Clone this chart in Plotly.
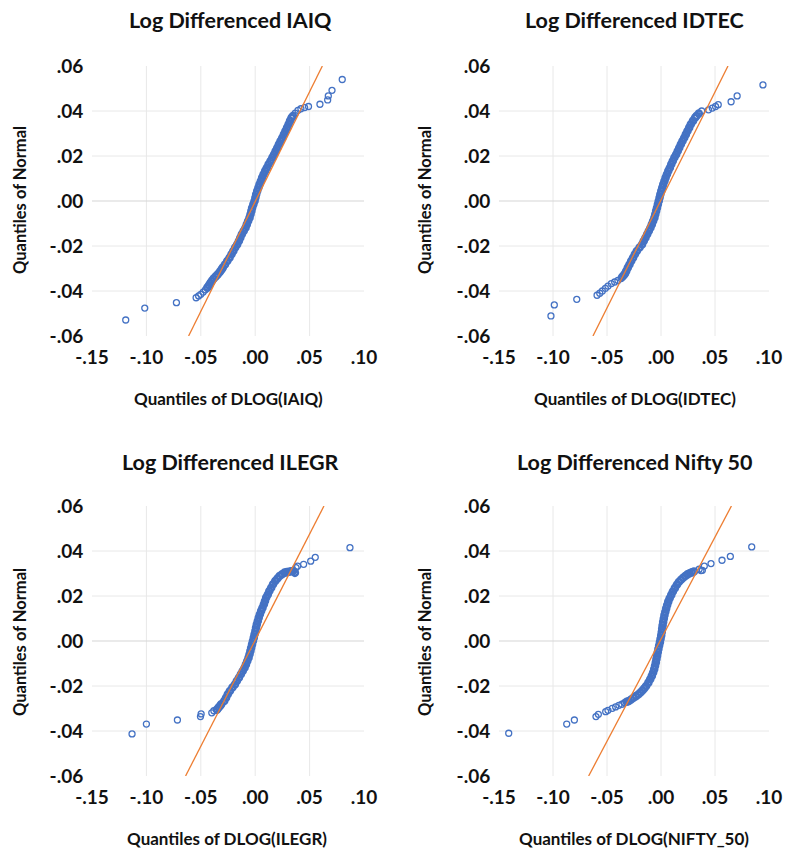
import plotly.graph_objects as go

# ---------------- data ----------------
TITLES = ["Log Differenced IAIQ", "Log Differenced IDTEC",
          "Log Differenced ILEGR", "Log Differenced Nifty 50"]
X_TITLES = ["Quantiles of DLOG(IAIQ)", "Quantiles of DLOG(IDTEC)",
            "Quantiles of DLOG(ILEGR)", "Quantiles of DLOG(NIFTY_50)"]
Y_TITLE = "Quantiles of Normal"

X_TICKS = [-0.15, -0.10, -0.05, 0.0, 0.05, 0.10]
X_TICKTEXT = ["-.15", "-.10", "-.05", ".00", ".05", ".10"]
Y_TICKS = [-0.06, -0.04, -0.02, 0.0, 0.02, 0.04, 0.06]
Y_TICKTEXT = ["-.06", "-.04", "-.02", ".00", ".02", ".04", ".06"]
GRID_X = [-0.10, -0.05, 0.0, 0.05]
GRID_Y = [-0.04, -0.02, 0.0, 0.02, 0.04]

# IAIQ
IAIQ_Y = [
    -0.0529, -0.0476, -0.0452, -0.0430, -0.0422, -0.0415, -0.0405, -0.0395, -0.0385, -0.0375,
    -0.0365, -0.0355, -0.0345, -0.0335, -0.0326, -0.0315, -0.0305, -0.0296, -0.0282, -0.0267,
    -0.0252, -0.0237, -0.0222, -0.0207, -0.0193, -0.0178, -0.0163, -0.0148, -0.0133, -0.0119,
    -0.0104, -0.0089, -0.0074, -0.0059, -0.0044, -0.0030, -0.0015, 0.0000, 0.0015, 0.0030,
    0.0045, 0.0060, 0.0074, 0.0089, 0.0104, 0.0119, 0.0134, 0.0148, 0.0163, 0.0178,
    0.0193, 0.0207, 0.0222, 0.0237, 0.0252, 0.0267, 0.0281, 0.0296, 0.0311, 0.0326,
    0.0341, 0.0356, 0.0370, 0.0378, 0.0390, 0.0403, 0.0410, 0.0415, 0.0420, 0.0430,
    0.0449, 0.0467, 0.0492, 0.0540]
IAIQ_X = [
    -0.1190, -0.1015, -0.0724, -0.0543, -0.0520, -0.0500, -0.0478, -0.0458, -0.0440, -0.0425,
    -0.0412, -0.0398, -0.0382, -0.0362, -0.0344, -0.0325, -0.0310, -0.0298, -0.0278, -0.0257,
    -0.0236, -0.0218, -0.0201, -0.0184, -0.0166, -0.0150, -0.0137, -0.0123, -0.0106, -0.0089,
    -0.0077, -0.0065, -0.0052, -0.0043, -0.0035, -0.0028, -0.0017, -0.0006, 0.0002, 0.0009,
    0.0019, 0.0030, 0.0040, 0.0052, 0.0064, 0.0077, 0.0092, 0.0107, 0.0123, 0.0141,
    0.0158, 0.0173, 0.0188, 0.0203, 0.0218, 0.0233, 0.0249, 0.0264, 0.0278, 0.0293,
    0.0307, 0.0320, 0.0334, 0.0347, 0.0368, 0.0393, 0.0420, 0.0454, 0.0490, 0.0595,
    0.0666, 0.0672, 0.0706, 0.0800]

# IDTEC
IDTEC_Y = [
    -0.0511, -0.0462, -0.0437, -0.0419, -0.0410, -0.0400, -0.0388, -0.0378, -0.0367, -0.0360,
    -0.0353, -0.0345, -0.0338, -0.0330, -0.0322, -0.0311, -0.0296, -0.0282, -0.0267, -0.0252,
    -0.0237, -0.0222, -0.0207, -0.0193, -0.0178, -0.0163, -0.0148, -0.0133, -0.0119, -0.0104,
    -0.0089, -0.0074, -0.0059, -0.0044, -0.0030, -0.0015, 0.0000, 0.0015, 0.0030, 0.0045,
    0.0060, 0.0074, 0.0089, 0.0104, 0.0119, 0.0134, 0.0148, 0.0163, 0.0178, 0.0193,
    0.0207, 0.0222, 0.0237, 0.0252, 0.0267, 0.0281, 0.0296, 0.0311, 0.0326, 0.0341,
    0.0356, 0.0370, 0.0378, 0.0389, 0.0400, 0.0405, 0.0413, 0.0420, 0.0428, 0.0441,
    0.0467, 0.0516]
IDTEC_X = [
    -0.1019, -0.0988, -0.0780, -0.0592, -0.0567, -0.0543, -0.0515, -0.0491, -0.0460, -0.0429,
    -0.0399, -0.0370, -0.0360, -0.0345, -0.0333, -0.0322, -0.0307, -0.0292, -0.0276, -0.0259,
    -0.0242, -0.0224, -0.0199, -0.0176, -0.0160, -0.0144, -0.0128, -0.0113, -0.0098, -0.0085,
    -0.0073, -0.0061, -0.0053, -0.0045, -0.0037, -0.0029, -0.0021, -0.0013, -0.0006, 0.0003,
    0.0012, 0.0021, 0.0032, 0.0043, 0.0055, 0.0068, 0.0082, 0.0095, 0.0109, 0.0124,
    0.0140, 0.0155, 0.0169, 0.0184, 0.0199, 0.0215, 0.0230, 0.0245, 0.0261, 0.0276,
    0.0296, 0.0315, 0.0328, 0.0350, 0.0377, 0.0440, 0.0475, 0.0505, 0.0530, 0.0649,
    0.0705, 0.0944]

# ILEGR
ILEGR_Y = [
    -0.0413, -0.0369, -0.0351, -0.0336, -0.0324, -0.0319, -0.0310, -0.0305, -0.0296, -0.0288,
    -0.0281, -0.0267, -0.0252, -0.0237, -0.0222, -0.0207, -0.0193, -0.0178, -0.0163, -0.0148,
    -0.0133, -0.0119, -0.0104, -0.0089, -0.0074, -0.0059, -0.0044, -0.0030, -0.0015, 0.0000,
    0.0015, 0.0030, 0.0045, 0.0060, 0.0074, 0.0089, 0.0104, 0.0119, 0.0134, 0.0148,
    0.0163, 0.0178, 0.0193, 0.0207, 0.0222, 0.0237, 0.0252, 0.0267, 0.0278, 0.0289,
    0.0297, 0.0304, 0.0306, 0.0308, 0.0310, 0.0311, 0.0303, 0.0326, 0.0333, 0.0341,
    0.0355, 0.0372, 0.0415]
ILEGR_X = [
    -0.1132, -0.1000, -0.0715, -0.0503, -0.0497, -0.0399, -0.0380, -0.0352, -0.0337, -0.0322,
    -0.0313, -0.0285, -0.0268, -0.0252, -0.0233, -0.0210, -0.0187, -0.0169, -0.0150, -0.0132,
    -0.0115, -0.0098, -0.0085, -0.0073, -0.0061, -0.0052, -0.0044, -0.0037, -0.0029, -0.0021,
    -0.0013, -0.0006, 0.0002, 0.0008, 0.0015, 0.0024, 0.0033, 0.0043, 0.0055, 0.0067,
    0.0080, 0.0090, 0.0101, 0.0116, 0.0130, 0.0147, 0.0164, 0.0184, 0.0204, 0.0224,
    0.0247, 0.0270, 0.0290, 0.0310, 0.0330, 0.0347, 0.0365, 0.0375, 0.0390, 0.0445,
    0.0510, 0.0552, 0.0871]

# NIFTY 50
NIFTY_Y = [
    -0.0410, -0.0369, -0.0351, -0.0336, -0.0326, -0.0314, -0.0308, -0.0299, -0.0293, -0.0286,
    -0.0281, -0.0274, -0.0270, -0.0267, -0.0260, -0.0252, -0.0245, -0.0237, -0.0228, -0.0219,
    -0.0210, -0.0200, -0.0185, -0.0170, -0.0155, -0.0140, -0.0125, -0.0110, -0.0095, -0.0080,
    -0.0065, -0.0050, -0.0035, -0.0020, -0.0005, 0.0010, 0.0025, 0.0040, 0.0055, 0.0070,
    0.0085, 0.0100, 0.0115, 0.0130, 0.0145, 0.0160, 0.0175, 0.0190, 0.0205, 0.0220,
    0.0235, 0.0250, 0.0262, 0.0272, 0.0281, 0.0289, 0.0296, 0.0301, 0.0305, 0.0309,
    0.0313, 0.0319, 0.0314, 0.0333, 0.0344, 0.0359, 0.0376, 0.0418]
NIFTY_X = [
    -0.1410, -0.0873, -0.0802, -0.0602, -0.0580, -0.0512, -0.0491, -0.0451, -0.0420, -0.0390,
    -0.0362, -0.0337, -0.0318, -0.0298, -0.0277, -0.0255, -0.0232, -0.0208, -0.0188, -0.0170,
    -0.0154, -0.0138, -0.0117, -0.0100, -0.0085, -0.0073, -0.0063, -0.0055, -0.0048, -0.0042,
    -0.0036, -0.0030, -0.0024, -0.0017, -0.0010, -0.0004, 0.0002, 0.0007, 0.0011, 0.0015,
    0.0020, 0.0026, 0.0032, 0.0040, 0.0048, 0.0057, 0.0067, 0.0080, 0.0095, 0.0110,
    0.0128, 0.0147, 0.0165, 0.0185, 0.0205, 0.0225, 0.0245, 0.0265, 0.0285, 0.0305,
    0.0370, 0.0353, 0.0383, 0.0401, 0.0463, 0.0565, 0.0642, 0.0840]

# reference (theoretical) lines: endpoints
REF_Y = [-0.06, 0.06]
REF_X = [[-0.0612, 0.0617], [-0.0630, 0.0620], [-0.0640, 0.0632], [-0.0670, 0.0652]]

SERIES_X = [IAIQ_X, IDTEC_X, ILEGR_X, NIFTY_X]
SERIES_Y = [IAIQ_Y, IDTEC_Y, ILEGR_Y, NIFTY_Y]

# ---------------- styling / layout ----------------
W, H = 785, 849
FONT = "Lato"
BLUE = "#4472C4"
ORANGE = "#ED7D31"
GRID = "#e8e8e8"
ZERO = "#d6d6d6"
TXT = "#111111"

# y-span of the densely packed (overlapping) part of each cloud; markers there get a
# heavier stroke so that they merge into a solid band as in the original
BAND_SPAN = [(-0.0386, 0.0379), (-0.0339, 0.0390), (-0.0306, 0.0312), (-0.0271, 0.0310)]


def px(v):
    return v / W


def py(v):
    return 1 - v / H


X_DOMAINS = [[px(92), px(364)], [px(499), px(769)]] * 2
Y_DOMAINS = [[py(336), py(66)]] * 2 + [[py(776), py(506)]] * 2
TITLE_POS = [(230, 20), (634, 20), (230, 462), (634, 462)]
XT_POS = [(228, 398), (635, 398), (227, 838), (634, 838)]
YT_POS = [(20, 200), (425, 200), (20, 642), (425, 642)]

fig = go.Figure()
shapes = []
annotations = []

for i in range(4):
    xa = "x" if i == 0 else f"x{i+1}"
    ya = "y" if i == 0 else f"y{i+1}"
    lo, hi = BAND_SPAN[i]
    widths = [2.6 if lo <= v <= hi else 1.3 for v in SERIES_Y[i]]
    fig.add_trace(go.Scatter(
        x=SERIES_X[i], y=SERIES_Y[i], mode="markers", xaxis=xa, yaxis=ya,
        marker=dict(symbol="circle-open", size=6, color=BLUE,
                    line=dict(width=widths, color=BLUE)),
        showlegend=False, hoverinfo="skip"))
    fig.add_trace(go.Scatter(
        x=REF_X[i], y=REF_Y, mode="lines", xaxis=xa, yaxis=ya,
        line=dict(color=ORANGE, width=1.3), showlegend=False, hoverinfo="skip"))

    for g in GRID_X:
        shapes.append(dict(type="line", xref=xa, yref=f"{ya} domain", x0=g, x1=g,
                           y0=0, y1=1, line=dict(color=GRID, width=1), layer="below"))
    for g in GRID_Y:
        shapes.append(dict(type="line", xref=f"{xa} domain", yref=ya, x0=0, x1=1,
                           y0=g, y1=g,
                           line=dict(color=ZERO if g == 0 else GRID, width=1.2 if g == 0 else 1),
                           layer="below"))

    axis_x = dict(domain=X_DOMAINS[i], range=[X_TICKS[0], X_TICKS[-1]], anchor=ya,
                  tickvals=X_TICKS, ticktext=X_TICKTEXT, showgrid=False, zeroline=False,
                  showline=False, ticks="outside", ticklen=4, tickcolor="rgba(0,0,0,0)",
                  tickfont=dict(family=FONT, size=19, color=TXT, weight="bold"),
                  fixedrange=True, automargin=False)
    axis_y = dict(domain=Y_DOMAINS[i], range=[Y_TICKS[0], Y_TICKS[-1]], anchor=xa,
                  tickvals=Y_TICKS, ticktext=Y_TICKTEXT, showgrid=False, zeroline=False,
                  showline=False, ticks="outside", ticklen=4, tickcolor="rgba(0,0,0,0)",
                  tickfont=dict(family=FONT, size=19, color=TXT, weight="bold"),
                  fixedrange=True, automargin=False)
    key = "" if i == 0 else str(i + 1)
    fig.update_layout(**{f"xaxis{key}": axis_x, f"yaxis{key}": axis_y})

    tx, ty = TITLE_POS[i]
    annotations.append(dict(text=TITLES[i], x=px(tx), y=py(ty), xref="paper", yref="paper",
                            xanchor="center", yanchor="middle", showarrow=False,
                            font=dict(family=FONT, size=21.5, color=TXT, weight="bold")))
    ax_, ay_ = XT_POS[i]
    annotations.append(dict(text=X_TITLES[i], x=px(ax_), y=py(ay_), xref="paper", yref="paper",
                            xanchor="center", yanchor="middle", showarrow=False,
                            font=dict(family=FONT, size=17, color=TXT, weight="bold")))
    bx, by = YT_POS[i]
    annotations.append(dict(text=Y_TITLE, x=px(bx), y=py(by), xref="paper", yref="paper",
                            xanchor="center", yanchor="middle", showarrow=False, textangle=-90,
                            font=dict(family=FONT, size=16.5, color=TXT, weight="bold")))

fig.update_layout(width=W, height=H, margin=dict(l=0, r=0, t=0, b=0, pad=0),
                  paper_bgcolor="white", plot_bgcolor="white",
                  shapes=shapes, annotations=annotations)

fig.write_html("out.html")
